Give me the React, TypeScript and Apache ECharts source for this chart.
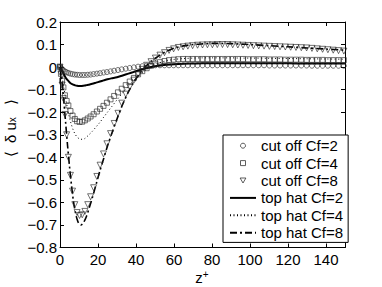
import React, { useEffect, useRef } from "react";
import * as echarts from "echarts";

const zCut = [0, 0.5, 1.1, 1.8, 2.6, 3.5, 4.4, 5.5, 6.6, 7.8, 9.0, 10.3, 11.7, 13.1, 14.6, 16.1, 17.7, 19.4, 21.1, 22.9, 24.7, 26.6, 28.5, 30.5, 32.5, 34.6, 36.7, 38.9, 41.1, 43.3, 45.6, 47.9, 50.2, 52.6, 55.0, 57.4, 59.8, 62.3, 64.8, 67.3, 69.8, 72.4, 75.0, 77.6, 80.2, 82.8, 85.5, 88.2, 90.9, 93.6, 96.3, 99.0, 101.8, 104.6, 107.4, 110.2, 113.0, 115.8, 118.6, 121.4, 124.2, 127.0, 129.8, 132.6, 135.4, 138.2, 141.0, 143.8, 146.6, 149.4];

const cutCf2 = [0, -0.004, -0.009, -0.014, -0.019, -0.023, -0.026, -0.029, -0.031, -0.033, -0.034, -0.035, -0.035, -0.035, -0.034, -0.033, -0.031, -0.029, -0.027, -0.024, -0.022, -0.019, -0.016, -0.013, -0.010, -0.007, -0.004, -0.001, 0.002, 0.004, 0.006, 0.007, 0.008, 0.008, 0.008, 0.008, 0.008, 0.008, 0.008, 0.008, 0.008, 0.008, 0.008, 0.008, 0.008, 0.008, 0.008, 0.008, 0.008, 0.008, 0.008, 0.008, 0.008, 0.008, 0.008, 0.007, 0.007, 0.007, 0.007, 0.007, 0.007, 0.007, 0.007, 0.006, 0.006, 0.006, 0.006, 0.006, 0.006, 0.006];

const cutCf4 = [0, -0.03, -0.06, -0.09, -0.125, -0.15, -0.17, -0.195, -0.215, -0.23, -0.24, -0.243, -0.242, -0.236, -0.228, -0.219, -0.209, -0.197, -0.185, -0.172, -0.158, -0.143, -0.128, -0.112, -0.096, -0.08, -0.064, -0.048, -0.032, -0.018, -0.005, 0.006, 0.015, 0.022, 0.027, 0.031, 0.033, 0.035, 0.036, 0.036, 0.036, 0.036, 0.036, 0.036, 0.036, 0.036, 0.036, 0.036, 0.036, 0.036, 0.036, 0.035, 0.035, 0.035, 0.035, 0.034, 0.034, 0.034, 0.033, 0.033, 0.033, 0.033, 0.032, 0.032, 0.032, 0.032, 0.031, 0.031, 0.031, 0.031];

const cutCf8 = [0, -0.03, -0.08, -0.14, -0.21, -0.30, -0.40, -0.48, -0.55, -0.61, -0.645, -0.658, -0.655, -0.64, -0.61, -0.575, -0.535, -0.485, -0.435, -0.385, -0.34, -0.295, -0.25, -0.205, -0.16, -0.12, -0.088, -0.058, -0.032, -0.01, 0.008, 0.024, 0.04, 0.053, 0.064, 0.074, 0.081, 0.087, 0.09, 0.093, 0.095, 0.097, 0.098, 0.099, 0.099, 0.1, 0.1, 0.1, 0.099, 0.098, 0.097, 0.096, 0.095, 0.094, 0.093, 0.092, 0.091, 0.09, 0.089, 0.088, 0.087, 0.086, 0.085, 0.083, 0.081, 0.079, 0.077, 0.075, 0.073, 0.071];

const zLine = [0, 1, 2, 3, 4, 5, 6, 7, 8, 9, 10, 11, 12, 13, 14, 15, 17, 19, 21, 23, 25, 27, 30, 33, 36, 39, 42, 45, 48, 52, 56, 60, 65, 70, 75, 80, 85, 90, 95, 100, 110, 120, 130, 140, 150];

const hatCf2 = [0, -0.015, -0.032, -0.047, -0.058, -0.067, -0.074, -0.078, -0.081, -0.083, -0.084, -0.084, -0.083, -0.082, -0.08, -0.078, -0.074, -0.069, -0.064, -0.059, -0.054, -0.05, -0.045, -0.037, -0.029, -0.021, -0.013, -0.006, 0.0, 0.006, 0.01, 0.013, 0.015, 0.016, 0.017, 0.017, 0.017, 0.017, 0.017, 0.017, 0.017, 0.017, 0.016, 0.016, 0.016];

const hatCf4 = [0, -0.04, -0.09, -0.14, -0.185, -0.225, -0.255, -0.28, -0.298, -0.31, -0.317, -0.32, -0.32, -0.317, -0.31, -0.302, -0.285, -0.265, -0.245, -0.222, -0.2, -0.178, -0.145, -0.114, -0.085, -0.058, -0.035, -0.015, 0.002, 0.018, 0.028, 0.034, 0.038, 0.04, 0.041, 0.041, 0.041, 0.041, 0.04, 0.04, 0.039, 0.038, 0.037, 0.036, 0.035];

const hatCf8 = [0, -0.06, -0.15, -0.25, -0.35, -0.44, -0.52, -0.59, -0.64, -0.675, -0.695, -0.7, -0.695, -0.68, -0.66, -0.635, -0.58, -0.52, -0.46, -0.405, -0.35, -0.3, -0.23, -0.165, -0.11, -0.065, -0.028, 0.002, 0.026, 0.05, 0.07, 0.084, 0.094, 0.1, 0.103, 0.105, 0.105, 0.104, 0.102, 0.1, 0.095, 0.09, 0.085, 0.08, 0.075];

const seriesNames = ["cut off Cf=2", "cut off Cf=4", "cut off Cf=8", "top hat Cf=2", "top hat Cf=4", "top hat Cf=8"];

const pair = (xs: number[], ys: number[]) => xs.map((x, i) => [x, ys[i]]);

const FONT = "'Liberation Sans', Arial, Helvetica, sans-serif";

export default function App() {
  const ref = useRef<HTMLDivElement>(null);
  useEffect(() => {
    document.body.style.margin = "0";
    if (!ref.current) return;
    const chart = echarts.init(ref.current, undefined, { renderer: "svg" });
    const marker = {
      color: "rgba(0,0,0,0)",
      borderColor: "#222",
      borderWidth: 0.8,
    };
    const legendMarker = {
      color: "rgba(0,0,0,0)",
      borderColor: "#333",
      borderWidth: 0.8,
      opacity: 1,
    };
    const yFmt = (v: number) => {
      const r = Math.round(v * 10) / 10;
      if (r === 0) return "0";
      const s = Math.abs(r).toFixed(1);
      return r < 0 ? "\u2212" + s : s;
    };
    const axisLine = { show: true, onZero: false, lineStyle: { color: "#000", width: 1 } };
    const axisTick = { show: true, inside: true, length: 4, lineStyle: { color: "#000", width: 1 } };
    const hideDot = { opacity: 0 };
    chart.setOption({
      animation: false,
      backgroundColor: "#fff",
      grid: { left: 60, right: 37, top: 22, bottom: 39.5, containLabel: false },
      xAxis: [
        {
          type: "value", position: "bottom", min: 0, max: 150, interval: 20,
          axisLine, axisTick, splitLine: { show: false },
          axisLabel: { color: "#000", fontSize: 15, fontFamily: FONT, margin: 4, showMaxLabel: false },
        },
        {
          type: "value", position: "top", min: 0, max: 150, interval: 20,
          axisLine, axisTick, splitLine: { show: false }, axisLabel: { show: false },
        },
      ],
      yAxis: [
        {
          type: "value", position: "left", min: -0.8, max: 0.2, interval: 0.1,
          axisLine, axisTick, splitLine: { show: false },
          axisLabel: { color: "#000", fontSize: 15, fontFamily: FONT, margin: 3, formatter: yFmt },
        },
        {
          type: "value", position: "right", min: -0.8, max: 0.2, interval: 0.1,
          axisLine, axisTick, splitLine: { show: false }, axisLabel: { show: false },
        },
      ],
      legend: {
        orient: "vertical",
        left: 223,
        top: 135,
        padding: [2, 5, 1, 6],
        itemGap: 0,
        itemWidth: 26,
        itemHeight: 5,
        symbolKeepAspect: true,
        selectedMode: false,
        backgroundColor: "#fff",
        borderColor: "#000",
        borderWidth: 1,
        borderRadius: 0,
        textStyle: { color: "#000", fontSize: 15, fontFamily: FONT, lineHeight: 17.4 },
        data: [
          { name: seriesNames[0], icon: "circle", itemStyle: legendMarker },
          { name: seriesNames[1], icon: "path://M0,0L10,0L10,10L0,10Z", itemStyle: legendMarker },
          { name: seriesNames[2], icon: "path://M0,0L10,0L5,8.66Z", itemStyle: legendMarker },
          { name: seriesNames[3], itemStyle: hideDot },
          { name: seriesNames[4], itemStyle: hideDot },
          { name: seriesNames[5], itemStyle: hideDot },
        ],
      },
      graphic: [
        {
          type: "text",
          x: 10,
          y: 128,
          rotation: Math.PI / 2,
          style: {
            text: "\u27e8  \u03b4 u{s|x}   \u27e9",
            fontSize: 15,
            fontFamily: FONT,
            fill: "#000",
            align: "center",
            verticalAlign: "middle",
            rich: {
              s: { fontSize: 10, fontFamily: FONT, verticalAlign: "bottom", lineHeight: 8 },
            },
          },
        },
        {
          type: "text",
          x: 202,
          y: 277,
          style: {
            text: "z{p|+}",
            fontSize: 15,
            fontFamily: FONT,
            fill: "#000",
            align: "center",
            verticalAlign: "middle",
            rich: {
              p: { fontSize: 10, fontFamily: FONT, verticalAlign: "top", lineHeight: 8 },
            },
          },
        },
      ],
      series: [
        {
          name: seriesNames[0], type: "scatter", data: pair(zCut, cutCf2),
          symbol: "circle", symbolSize: 5, itemStyle: marker, z: 3,
        },
        {
          name: seriesNames[1], type: "scatter", data: pair(zCut, cutCf4),
          symbol: "rect", symbolSize: 5, itemStyle: marker, z: 3,
        },
        {
          name: seriesNames[2], type: "scatter", data: pair(zCut, cutCf8),
          symbol: "triangle", symbolRotate: 180, symbolSize: 6, itemStyle: marker, z: 3,
        },
        {
          name: seriesNames[3], type: "line", data: pair(zLine, hatCf2), smooth: 0.3,
          symbol: "none", lineStyle: { color: "#000", width: 2 }, itemStyle: { color: "#000" },
        },
        {
          name: seriesNames[4], type: "line", data: pair(zLine, hatCf4), smooth: 0.3,
          symbol: "none", lineStyle: { color: "#000", width: 1, type: [1, 2.5] }, itemStyle: { color: "#000" },
        },
        {
          name: seriesNames[5], type: "line", data: pair(zLine, hatCf8), smooth: 0.3,
          symbol: "none", lineStyle: { color: "#000", width: 1.6, type: [7, 3, 2, 3] }, itemStyle: { color: "#000" },
        },
      ],
    });
    return () => chart.dispose();
  }, []);
  return <div ref={ref} style={{ width: 382, height: 287 }} />;
}
